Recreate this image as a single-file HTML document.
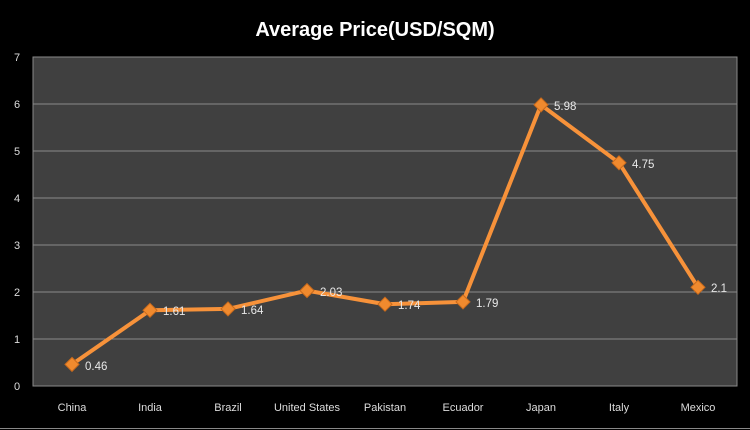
<!DOCTYPE html>
<html><head><meta charset="utf-8"><style>
html,body{margin:0;padding:0;background:#000;}
svg{display:block;font-family:"Liberation Sans",sans-serif;}
</style></head><body>
<svg width="750" height="430" viewBox="0 0 750 430">
<rect width="750" height="430" fill="#000"/>
<line x1="0" y1="428.5" x2="750" y2="428.5" stroke="#888" stroke-width="1"/>
<text x="375" y="36" text-anchor="middle" fill="#fff" font-size="20" font-weight="bold">Average Price(USD/SQM)</text>
<rect x="33" y="57" width="704" height="329" fill="#404040" stroke="#8a8a8a" stroke-width="1"/>
<g stroke="#8a8a8a" stroke-width="1">
<line x1="33" y1="104" x2="737" y2="104"/>
<line x1="33" y1="151" x2="737" y2="151"/>
<line x1="33" y1="198" x2="737" y2="198"/>
<line x1="33" y1="245" x2="737" y2="245"/>
<line x1="33" y1="292" x2="737" y2="292"/>
<line x1="33" y1="339" x2="737" y2="339"/>
</g>
<g fill="#ddd" font-size="11" text-anchor="middle">
<text x="17" y="61">7</text><text x="17" y="108">6</text><text x="17" y="155">5</text>
<text x="17" y="202">4</text><text x="17" y="249">3</text><text x="17" y="296">2</text>
<text x="17" y="343">1</text><text x="17" y="390">0</text>
<text x="72" y="411">China</text><text x="150" y="411">India</text><text x="228" y="411">Brazil</text>
<text x="307" y="411">United States</text><text x="385" y="411">Pakistan</text><text x="463" y="411">Ecuador</text>
<text x="541" y="411">Japan</text><text x="619" y="411">Italy</text><text x="698" y="411">Mexico</text>
</g>
<polyline fill="none" stroke="#f7923a" stroke-width="4" stroke-linejoin="round"
points="72,364.4 150,310.3 228,308.9 307,290.6 385,304.2 463,301.9 541,104.9 619,162.8 698,287.3"/>
<g fill="#f08a2e" stroke="#c86a1c" stroke-width="1">
<path d="M72,357.4l7,7l-7,7l-7,-7z"/><path d="M150,303.3l7,7l-7,7l-7,-7z"/>
<path d="M228,301.9l7,7l-7,7l-7,-7z"/><path d="M307,283.6l7,7l-7,7l-7,-7z"/>
<path d="M385,297.2l7,7l-7,7l-7,-7z"/><path d="M463,294.9l7,7l-7,7l-7,-7z"/>
<path d="M541,97.9l7,7l-7,7l-7,-7z"/><path d="M619,155.8l7,7l-7,7l-7,-7z"/>
<path d="M698,280.3l7,7l-7,7l-7,-7z"/>
</g>
<g fill="#e8e8e8" font-size="11.5">
<text x="85" y="370">0.46</text><text x="163" y="315">1.61</text><text x="241" y="314">1.64</text>
<text x="320" y="296">2.03</text><text x="398" y="309">1.74</text><text x="476" y="307">1.79</text>
<text x="554" y="110">5.98</text><text x="632" y="168">4.75</text><text x="711" y="292">2.1</text>
</g>
</svg>
</body></html>
